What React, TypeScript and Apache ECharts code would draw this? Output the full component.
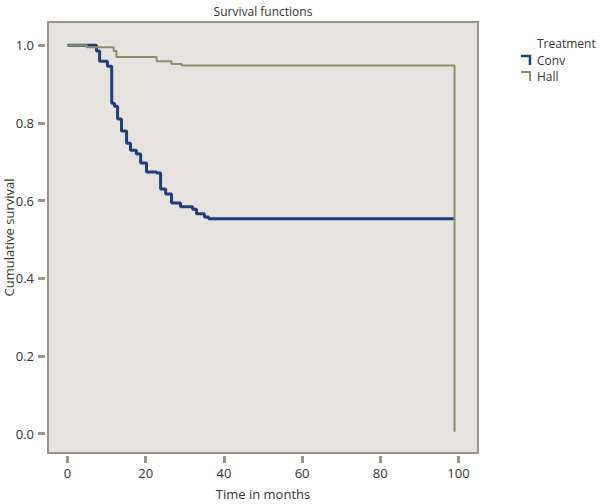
import React, { useEffect, useRef } from "react";
import * as echarts from "echarts";

// Kaplan-Meier steps: time (months) and survival after the step
const convTime = [0, 7.4, 8.2, 10.2, 11.3, 12.0, 12.8, 13.8, 15.1, 16.1, 17.6, 18.7, 20.2, 22.8, 23.8, 25.1, 26.6, 28.9, 32.0, 33.0, 35.0, 36.1, 99];
const convSurv = [1.0, 0.985, 0.959, 0.946, 0.851, 0.843, 0.81, 0.779, 0.748, 0.73, 0.72, 0.697, 0.674, 0.671, 0.63, 0.617, 0.594, 0.584, 0.578, 0.566, 0.558, 0.553, 0.553];

const hallTime = [0, 4.9, 11.8, 12.5, 22.8, 26.6, 29.2, 99, 99];
const hallSurv = [1.0, 0.995, 0.985, 0.97, 0.959, 0.952, 0.948, 0.948, 0.005];

const xTicks = [0, 20, 40, 60, 80, 100];
const yTicks = [0.0, 0.2, 0.4, 0.6, 0.8, 1.0];

const seriesNames = ["Conv", "Hall"];
const legendTitle = "Treatment";
const chartTitle = "Survival functions";
const xName = "Time in months";
const yName = "Cumulative survival";

const BLUE = "#1f3d7a";
const GREEN = "#8b8f67";
const FRAME = "#9d928b";
const FONT = "Open Sans";
const TEXT = "#333333";

export default function App() {
  const ref = useRef<HTMLDivElement>(null);
  useEffect(() => {
    const chart = echarts.init(ref.current!, null, { renderer: "svg" });
    const conv = convTime.map((t, i) => [t, convSurv[i]]);
    const hall = hallTime.map((t, i) => [t, hallSurv[i]]);
    const legendY = [60, 76];
    const colors = [BLUE, GREEN];
    chart.setOption({
      animation: false,
      backgroundColor: "#ffffff",
      textStyle: { fontFamily: FONT },
      grid: {
        show: true,
        left: 48,
        right: 122,
        top: 22,
        bottom: 51,
        containLabel: false,
        outerBoundsMode: "none",
        backgroundColor: "#e6e2df",
        borderColor: FRAME,
        borderWidth: 2,
      },
      xAxis: {
        type: "value",
        min: -5,
        max: 105,
        offset: 3,
        name: xName,
        nameLocation: "middle",
        nameGap: 31,
        nameMoveOverlap: false,
        nameTextStyle: { fontSize: 13, color: TEXT, fontFamily: FONT },
        axisLine: { show: true, onZero: false, lineStyle: { opacity: 0 } },
        splitLine: { show: false },
        axisTick: { show: true, inside: false, length: 7, customValues: xTicks, lineStyle: { color: FRAME, width: 3 } },
        axisLabel: { customValues: xTicks, margin: 10, fontSize: 13, color: TEXT, fontFamily: FONT },
      },
      yAxis: {
        type: "value",
        min: -0.05,
        max: 1.06,
        offset: 3,
        name: yName,
        nameLocation: "middle",
        nameGap: 30,
        nameMoveOverlap: false,
        nameTextStyle: { fontSize: 13, color: TEXT, fontFamily: FONT },
        axisLine: { show: true, onZero: false, lineStyle: { opacity: 0 } },
        splitLine: { show: false },
        axisTick: { show: true, inside: false, length: 7, customValues: yTicks, lineStyle: { color: FRAME, width: 3 } },
        axisLabel: {
          customValues: yTicks,
          margin: 11,
          fontSize: 13,
          color: TEXT,
          fontFamily: FONT,
          formatter: (v: number) => v.toFixed(1),
        },
      },
      series: [
        {
          name: seriesNames[0],
          type: "line",
          step: "end",
          data: conv,
          showSymbol: false,
          symbol: "none",
          lineStyle: { color: BLUE, width: 3 },
          z: 2,
        },
        {
          name: seriesNames[1],
          type: "line",
          step: "end",
          data: hall,
          showSymbol: false,
          symbol: "none",
          lineStyle: { color: GREEN, width: 2 },
          z: 3,
        },
      ],
      graphic: [
        {
          type: "text",
          x: 263,
          y: 11,
          style: { text: chartTitle, align: "center", verticalAlign: "middle", fontSize: 12, fill: TEXT, fontFamily: FONT },
        },
        {
          type: "text",
          x: 537,
          y: 43,
          style: { text: legendTitle, align: "left", verticalAlign: "middle", fontSize: 12, fill: TEXT, fontFamily: FONT },
        },
        ...seriesNames.flatMap((n, i) => [
          {
            type: "polyline",
            shape: { points: [[521, legendY[i] - 4], [530, legendY[i] - 4], [530, legendY[i] + 5]] },
            style: { stroke: colors[i], lineWidth: i === 0 ? 2.5 : 2, fill: "none" },
          },
          {
            type: "text",
            x: 537,
            y: legendY[i],
            style: { text: n, align: "left", verticalAlign: "middle", fontSize: 12, fill: TEXT, fontFamily: FONT },
          },
        ]),
      ],
    });
    return () => chart.dispose();
  }, []);
  return <div ref={ref} style={{ position: "fixed", left: 0, top: 0, width: 600, height: 504 }} />;
}
